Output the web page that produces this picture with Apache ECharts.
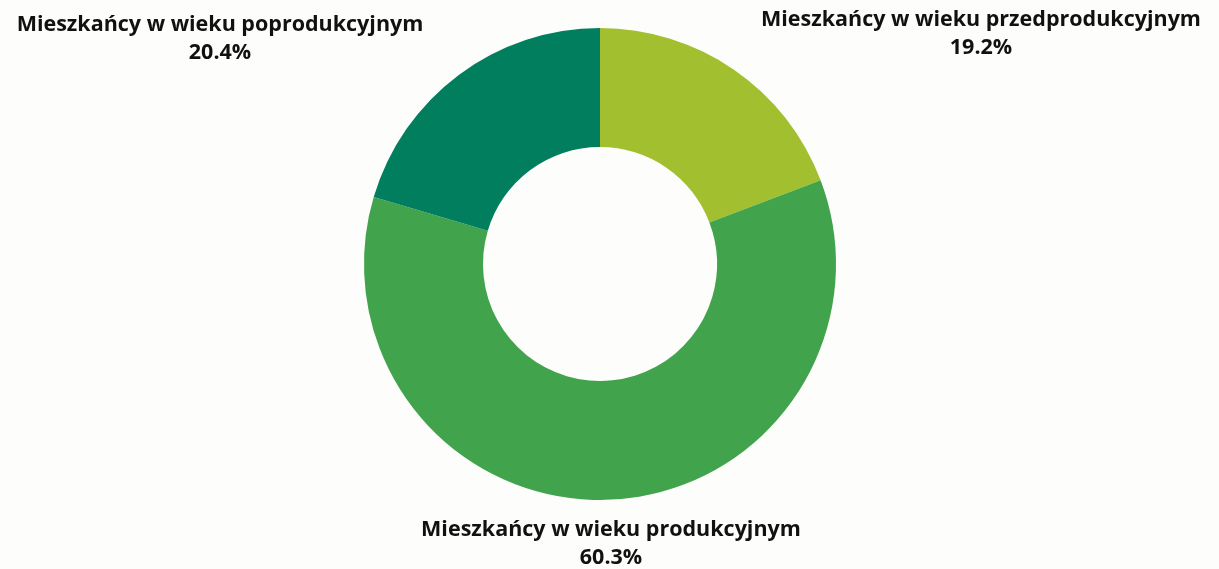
<!DOCTYPE html>
<html>
<head>
<meta charset="utf-8">
<script src="https://cdn.jsdelivr.net/npm/echarts@6/dist/echarts.min.js"></script>
<style>
html,body{margin:0;padding:0;background:#fdfdfb;}
#c{width:1219px;height:569px;}
</style>
</head>
<body>
<div id="c"></div>
<script>
var categories = ['Mieszkańcy w wieku przedprodukcyjnym', 'Mieszkańcy w wieku produkcyjnym', 'Mieszkańcy w wieku poprodukcyjnym'];
var values = [19.2, 60.3, 20.4];
var colors = ['#a2bf2f', '#41a44d', '#007e5e'];

var labelPos = [
  {x: 981, y: 34},
  {x: 611, y: 544},
  {x: 220, y: 39}
];

var chart = echarts.init(document.getElementById('c'));
chart.setOption({
  backgroundColor: '#fdfdfb',
  animation: false,
  series: [{
    type: 'pie',
    center: [600, 264],
    radius: [117, 236],
    startAngle: 90,
    clockwise: true,
    data: categories.map(function (n, i) {
      return {name: n, value: values[i], itemStyle: {color: colors[i]}};
    }),
    label: {
      show: true,
      formatter: function (p) { return p.name + '\n' + p.value.toFixed(1) + '%'; },
      fontFamily: 'Open Sans',
      fontWeight: 'bold',
      fontSize: 21.5,
      lineHeight: 28,
      color: '#111111',
      align: 'center',
      overflow: 'none',
      width: 600
    },
    labelLine: {show: false},
    labelLayout: function (params) {
      var p = labelPos[params.dataIndex];
      return {x: p.x, y: p.y, align: 'center', verticalAlign: 'middle'};
    },
    emphasis: {disabled: true}
  }]
});
</script>
</body>
</html>
